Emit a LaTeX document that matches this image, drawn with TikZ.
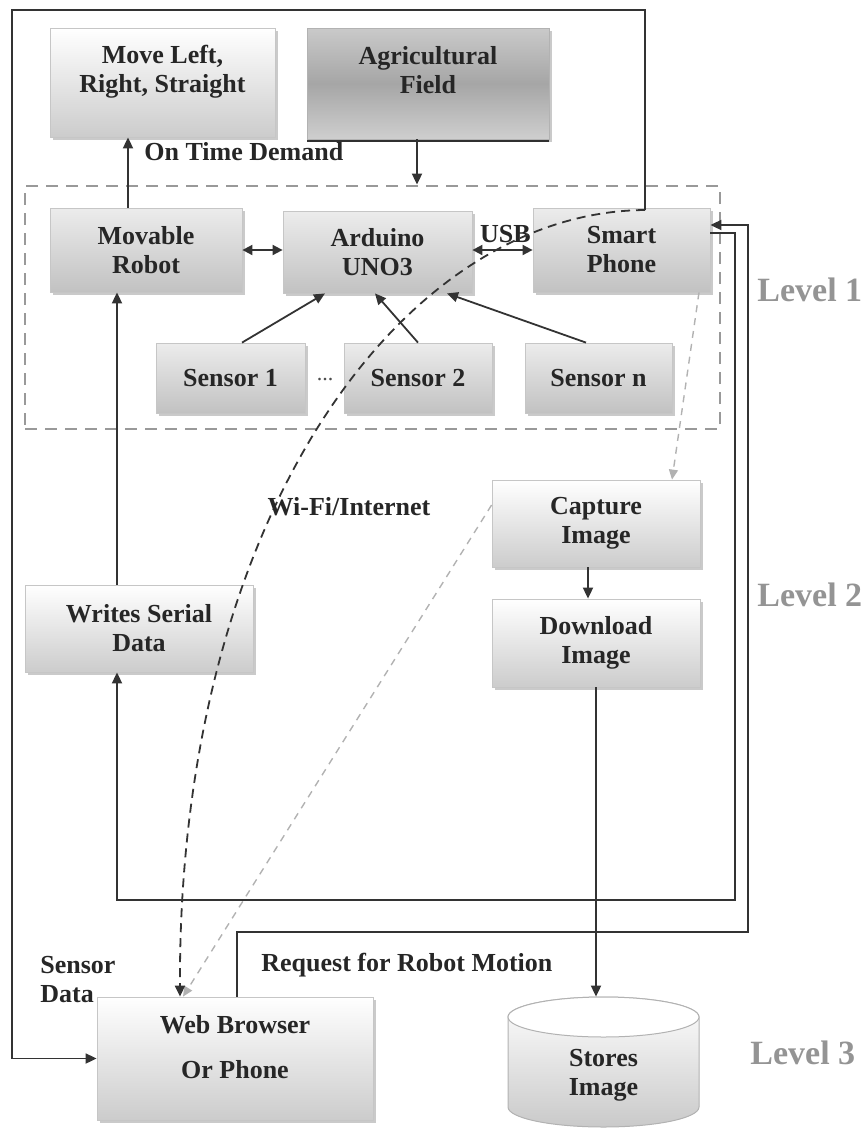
\documentclass[tikz,border=0pt]{standalone}
\usepackage{fontspec}
\setmainfont{Liberation Serif}
\usetikzlibrary{arrows.meta,shadows,calc}

\tikzset{
  txt/.style={font=\bfseries\fontsize{13}{14.5}\selectfont, text=black!85},
  lvl/.style={font=\bfseries\fontsize{17}{20}\selectfont, text=black!42, anchor=west, inner sep=0pt},
  box/.style={txt, draw=gray!45, line width=0.4pt, align=center, inner sep=0pt,
    drop shadow={shadow xshift=1.3pt, shadow yshift=-1.3pt, fill=gray!70, opacity=0.6}},
  lightbox/.style={box, top color=white, bottom color=gray!40},
  greybox/.style={box, top color=gray!15, bottom color=gray!48},
  darkbox/.style={box, draw=gray!60, top color=gray!42, bottom color=gray!38, middle color=gray!70,
    drop shadow={shadow xshift=0pt, shadow yshift=-1.6pt, fill=gray!25!black, opacity=0.9}},
  groupbox/.style={draw=black!40, line width=1.4pt, dash pattern=on 6pt off 4pt, inner sep=0pt},
  link/.style={draw=black!80, line width=0.9pt},
  arr/.style={link, -{Triangle[length=5.5pt,width=5pt]}},
  dbl/.style={link, {Triangle[length=5pt,width=5pt]}-{Triangle[length=5pt,width=5pt]}},
  wifi/.style={link, dash pattern=on 4.5pt off 3pt, -{Triangle[length=5.5pt,width=5pt]}},
  thin dash/.style={draw=gray!60, line width=0.7pt, dash pattern=on 3.5pt off 3pt,
    -{Triangle[length=5pt,width=4.5pt,fill=gray!60]}},
}

\begin{document}
\begin{tikzpicture}[x=0.5pt,y=-0.5pt]
\useasboundingbox (0,0) rectangle (867,1130);

% ---------- blocks ----------
\node[lightbox, minimum width=112.5pt, minimum height=54.5pt, text depth=13.5pt] (move) at (162.5,82.5) {Move Left,\\Right, Straight};
\node[darkbox, minimum width=121pt, minimum height=55.5pt, text depth=13.5pt] (agri) at (428,83.5) {Agricultural\\Field};

\node[groupbox, minimum width=347.5pt, minimum height=121.5pt] (grp) at (372.5,307.5) {};

\node[greybox, minimum width=96pt, minimum height=42pt] (robot) at (146,250) {Movable\\Robot};
\node[greybox, minimum width=94.5pt, minimum height=41pt] (ard) at (377.5,252) {Arduino\\UNO3};
\node[greybox, minimum width=88.5pt, minimum height=42pt] (phone) at (621.5,250) {Smart\\Phone};

\node[greybox, minimum width=74.5pt, minimum height=35pt] (s1) at (230.5,378) {Sensor 1};
\node[greybox, minimum width=74pt, minimum height=35pt] (s2) at (418,378) {Sensor 2};
\node[greybox, minimum width=73.5pt, minimum height=35pt] (sn) at (598.5,378) {Sensor n};
\node[font=\fontsize{11}{12}\selectfont, text=black!70] (dots) at (325,380) {...};

\node[lightbox, minimum width=104pt, minimum height=43.5pt] (cap) at (596,523.5) {Capture\\Image};
\node[lightbox, minimum width=104pt, minimum height=44pt] (dl) at (596,643) {Download\\Image};
\node[lightbox, minimum width=114pt, minimum height=43.5pt] (wr) at (139,628.5) {Writes Serial\\Data};

\node[lightbox, minimum width=138pt, minimum height=61.5pt, text depth=11.5pt] (web) at (235,1058.5) {Web Browser\\[8pt]Or Phone};

% storage drum
\path[draw=gray!60, line width=0.5pt, top color=white, bottom color=gray!42]
  (508,1017) -- (508,1107)
  arc[start angle=180, end angle=360, x radius=47.75pt, y radius=10pt]
  -- (699,1017)
  arc[start angle=0, end angle=180, x radius=47.75pt, y radius=10pt] -- cycle;
\draw[draw=gray!60, line width=0.5pt, fill=white] (603.5,1017) ellipse[x radius=47.75pt, y radius=10pt];
\node[txt, align=center, inner sep=0pt, minimum width=95.5pt, minimum height=65pt, text height=36pt] (st) at (603.5,1062) {Stores\\Image};

% ---------- routing points ----------
\coordinate (xa) at (128,0);
\coordinate (xb) at (417,0);
\coordinate (xc) at (117,0);
\coordinate (J)  at (645,210);
\coordinate (tl) at (12,10);
\coordinate (p1) at (735,233);
\coordinate (p2) at (735,900);
\coordinate (q1) at (748,932);
\coordinate (q2) at (748,225);

% ---------- connectors ----------
\draw[arr] (xa |- robot.north) -- (xa |- move.south);
\draw[arr] (xb |- agri.south) -- (xb |- grp.north);

\draw[dbl] (robot.east) -- (robot.east -| ard.west);
\draw[dbl] (phone.west -| ard.east) -- node[txt, above=0pt, pos=0.55] (usb) {USB} (phone.west);

\draw[arr] ([xshift=5.75pt]s1.north) -- ([xshift=-26.25pt]ard.south);
\draw[arr] (s2.north) -- ([xshift=-1.25pt]ard.south);
\draw[arr] ([xshift=-6.25pt]sn.north) -- ([xshift=34.75pt]ard.south);

\draw[thin dash] ([xshift=38.75pt]phone.south) -- ([xshift=38pt]cap.north);
\draw[arr] ([xshift=-4pt]cap.south) -- ([xshift=-4pt]dl.north);
\draw[arr] (dl.south) -- (dl.south |- st.north);
\draw[thin dash] ([yshift=9.25pt]cap.west) -- ([xshift=-26pt]web.north);

\draw[arr] (xc |- wr.north) -- (xc |- robot.south);
\draw[arr] (phone.east |- p1) -- (p1) -- (p2) -- (p2 -| xc) -- (xc |- wr.south);
\draw[arr] ([xshift=1pt]web.north) -- ([xshift=1pt]web.north |- q1) -- (q1) -- (q2) -- (q2 -| phone.east);

\draw[arr] (J) -- (J |- tl) -- (tl) -- (tl |- web.west) -- (web.west);
\draw[wifi] (J) .. controls (400,212) and (178,520) .. ([xshift=-27.5pt]web.north);

% ---------- labels ----------
\node[txt, anchor=west, inner sep=0pt] (otd) at (144,152) {On Time Demand};
\node[txt, inner sep=0pt] (wf) at (349,507) {Wi-Fi/Internet};
\node[txt, anchor=west, align=left, inner sep=0pt] (sd) at (40,980) {Sensor\\Data};
\node[txt, anchor=west, inner sep=0pt] (req) at (261,965) {Request for Robot Motion};

\node[lvl] (l1) at (757,290) {Level 1};
\node[lvl] (l2) at (757,595) {Level 2};
\node[lvl] (l3) at (750,1053) {Level 3};
\end{tikzpicture}
\end{document}
